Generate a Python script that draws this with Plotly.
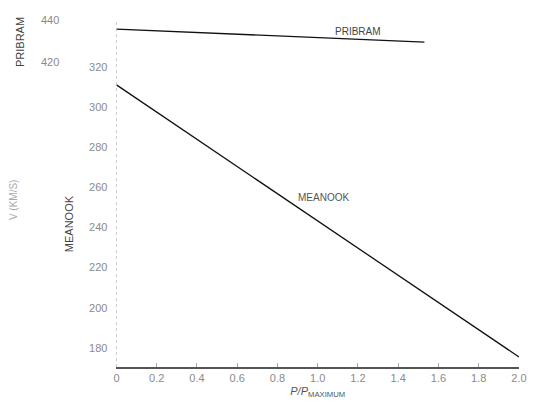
import plotly.graph_objects as go

# Velocity versus relative peak pressure, two stations
p_ticks = [0, 0.2, 0.4, 0.6, 0.8, 1.0, 1.2, 1.4, 1.6, 1.8, 2.0]
p_tick_text = ["0", "0.2", "0.4", "0.6", "0.8", "1.0", "1.2", "1.4", "1.6", "1.8", "2.0"]

pribram_p = [0.0, 1.53]
pribram_v = [435.7, 429.5]

meanook_p = [0.0, 2.0]
meanook_v = [311.0, 175.5]

meanook_ticks = [180, 200, 220, 240, 260, 280, 300, 320]
pribram_ticks = [420, 440]

FONT = "Liberation Sans"
GREY = "#8a8a8a"

# plot area geometry in pixels (used to place the rotated titles)
W, H = 537, 408
ML, MR, MT, MB = 20, 10, 10, 41
PW, PH = W - ML - MR, H - MT - MB


def px_to_paper(px, py):
    return (px - ML) / PW, 1 - (py - MT) / PH


fig = go.Figure()

fig.add_trace(go.Scatter(
    x=meanook_p, y=meanook_v, mode="lines",
    line=dict(color="#111111", width=1.3), yaxis="y", showlegend=False,
))
fig.add_trace(go.Scatter(
    x=pribram_p, y=pribram_v, mode="lines",
    line=dict(color="#111111", width=1.3), yaxis="y2", showlegend=False,
))

fig.update_layout(
    width=W, height=H,
    margin=dict(l=ML, r=MR, t=MT, b=MB),
    paper_bgcolor="white", plot_bgcolor="white",
    font=dict(family=FONT, color=GREY, size=11),
    xaxis=dict(
        domain=[(118 - ML) / PW, 1.0], range=[0, 2.0],
        tickvals=p_ticks, ticktext=p_tick_text,
        showgrid=False, zeroline=False,
        showline=True, linecolor="#555555", linewidth=1.5,
        ticks="inside", ticklen=4, tickcolor="#aaaaaa",
        tickfont=dict(size=11, color=GREY),
        title=dict(text="<i>P/P</i><sub>MAXIMUM</sub>",
                   font=dict(size=11, color="#555555"), standoff=4),
    ),
    yaxis=dict(
        range=[170.5, 348.3], anchor="x",
        tickvals=meanook_ticks,
        showgrid=False, zeroline=False, showline=False,
        ticks="", tickfont=dict(size=11, color=GREY),
        ticklabelstandoff=8,
    ),
    yaxis2=dict(
        range=[274.8, 444.8], overlaying="y", anchor="free",
        position=(60 - ML) / PW, side="left",
        tickvals=pribram_ticks,
        showgrid=False, zeroline=False, showline=False,
        ticks="", tickfont=dict(size=11, color=GREY),
    ),
)

# dotted vertical axis at P = 0
fig.add_shape(type="line", xref="x", yref="paper", x0=0, x1=0, y0=0, y1=0.97,
              line=dict(color="#9a9a9a", width=1, dash="dot"))

# station labels on the curves
fig.add_annotation(x=1.20, y=434.8, xref="x", yref="y2", text="PRIBRAM",
                   showarrow=False, font=dict(size=10, color="#444444"))
fig.add_annotation(x=1.03, y=255, xref="x", yref="y", text="MEANOOK",
                   showarrow=False, font=dict(size=10, color="#555555"))

# rotated axis titles
for text, (px, py), size, color in [
    ("PRIBRAM", (20, 42), 11, "#444444"),
    ("MEANOOK", (70, 224), 11, "#444444"),
    ("V (KM/S)", (13, 200), 10, "#aaaaaa"),
]:
    ax, ay = px_to_paper(px, py)
    fig.add_annotation(xref="paper", yref="paper", x=ax, y=ay,
                       xanchor="center", yanchor="middle",
                       text=text, textangle=-90, showarrow=False,
                       font=dict(size=size, color=color))

fig.write_html("out.html")
